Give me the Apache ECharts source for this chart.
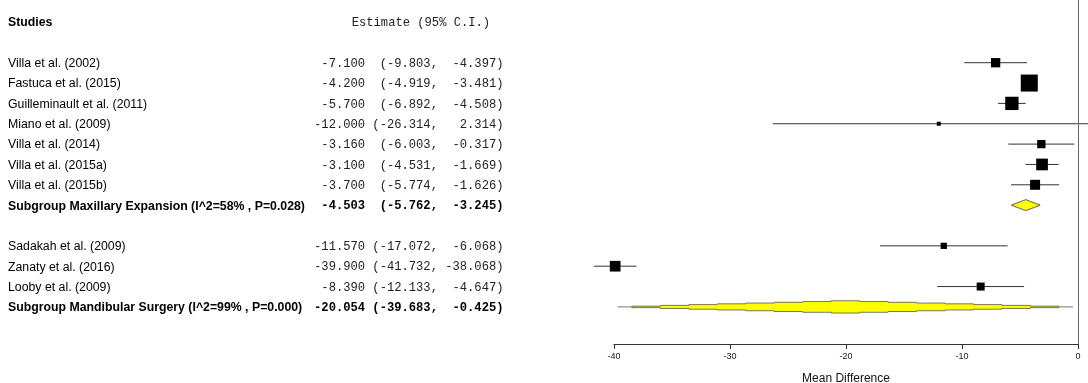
<!DOCTYPE html>
<html><head><meta charset="utf-8">
<script src="https://cdn.jsdelivr.net/npm/echarts@6/dist/echarts.min.js"></script>
<style>html,body{margin:0;padding:0;background:#fff}#c{width:1088px;height:383px}</style>
</head><body><div id="c"></div>
<script>
// ---- data ----
const names = [
  'Villa et al. (2002)', 'Fastuca et al. (2015)', 'Guilleminault et al. (2011)', 'Miano et al. (2009)',
  'Villa et al. (2014)', 'Villa et al. (2015a)', 'Villa et al. (2015b)',
  'Subgroup Maxillary Expansion (I^2=58% , P=0.028)',
  'Sadakah et al. (2009)', 'Zanaty et al. (2016)', 'Looby et al. (2009)',
  'Subgroup Mandibular Surgery (I^2=99% , P=0.000)'
];
const rows = [0, 1, 2, 3, 4, 5, 6, 7, 9, 10, 11, 12];
const est = [-7.100, -4.200, -5.700, -12.000, -3.160, -3.100, -3.700, -4.503, -11.570, -39.900, -8.390, -20.054];
const lo  = [-9.803, -4.919, -6.892, -26.314, -6.003, -4.531, -5.774, -5.762, -17.072, -41.732, -12.133, -39.683];
const hi  = [-4.397, -3.481, -4.508, 2.314, -0.317, -1.669, -1.626, -3.245, -6.068, -38.068, -4.647, -0.425];
const isSubgroup = [false, false, false, false, false, false, false, true, false, false, false, true];
const weights = [9.3, 17, 13.3, 4, 8.3, 11.7, 10, null, 6.3, 10.7, 8, null];
const xTicks = [-40, -30, -20, -10, 0];
const headerStudies = 'Studies';
const headerEstimate = 'Estimate (95% C.I.)';
const xName = 'Mean Difference';

// ---- helpers ----
function padL(s, n) { while (s.length < n) s = ' ' + s; return s; }
function fmtLine(i) {
  return padL(est[i].toFixed(3), 7) + ' ' + padL('(' + lo[i].toFixed(3), 8) + ', ' + padL(hi[i].toFixed(3), 7) + ')';
}
const SANS = '"Liberation Sans", Arial, sans-serif';
const MONO = '"Liberation Mono", "Courier New", monospace';

const studyIdx = [], subIdx = [];
isSubgroup.forEach((s, i) => (s ? subIdx : studyIdx).push(i));

const chart = echarts.init(document.getElementById('c'), null, { renderer: 'canvas' });

const option = {
  animation: false,
  backgroundColor: '#fff',
  grid: { left: 614, right: 10, top: 0, height: 344, containLabel: false, outerBoundsMode: 'none' },
  xAxis: {
    type: 'value', min: xTicks[0], max: xTicks[xTicks.length - 1], interval: 10,
    splitLine: { show: false },
    axisLine: { show: true, onZero: false, lineStyle: { color: '#333', width: 1 } },
    axisTick: { show: true, length: 5, lineStyle: { color: '#333' } },
    axisLabel: { fontFamily: SANS, fontSize: 9, color: '#222', margin: 8 },
    name: xName, nameLocation: 'middle', nameGap: 29,
    nameTextStyle: { fontFamily: SANS, fontSize: 12, color: '#111' }
  },
  yAxis: {
    type: 'value', inverse: true, min: -3.081, max: 13.823, show: false
  },
  series: [
    {
      // text columns
      type: 'custom',
      silent: true,
      data: rows.map((r) => [0, r]).concat([[0, -2]]),
      renderItem: function (params, api) {
        const i = params.dataIndex;
        const y = api.coord([0, api.value(1)])[1] + 1;
        if (i >= names.length) {
          return { type: 'group', children: [
            { type: 'text', style: { x: 8, y: y, text: headerStudies, font: 'bold 12.3px ' + SANS, fill: '#000', verticalAlign: 'middle', textAlign: 'left' } },
            { type: 'text', style: { x: 351.7, y: y, text: headerEstimate, font: '12.15px ' + MONO, fill: '#222', verticalAlign: 'middle', textAlign: 'left' } }
          ] };
        }
        const b = isSubgroup[i] ? 'bold ' : '';
        return { type: 'group', children: [
          { type: 'text', style: { x: 8, y: y, text: names[i], font: b + '12.3px ' + SANS, fill: '#000', verticalAlign: 'middle', textAlign: 'left' } },
          { type: 'text', style: { x: 503.5, y: y, text: fmtLine(i), font: b + '12.15px ' + MONO, fill: isSubgroup[i] ? '#000' : '#222', verticalAlign: 'middle', textAlign: 'right' } }
        ] };
      }
    },
    {
      // study CIs + boxes
      type: 'custom',
      clip: false,
      silent: true,
      data: studyIdx.map((i) => [est[i], rows[i], lo[i], hi[i], weights[i]]),
      renderItem: function (params, api) {
        const r = api.value(1);
        const c = api.coord([api.value(0), r]);
        const a = api.coord([api.value(2), r]);
        const bpt = api.coord([api.value(3), r]);
        const side = api.value(4);
        return { type: 'group', children: [
          { type: 'line', shape: { x1: a[0], y1: a[1], x2: bpt[0], y2: bpt[1] }, style: { stroke: '#333', lineWidth: 1 } },
          { type: 'rect', shape: { x: c[0] - side / 2, y: c[1] - side / 2, width: side, height: side }, style: { fill: '#000' } }
        ] };
      },
      markLine: {
        silent: true, symbol: ['none', 'none'], label: { show: false },
        lineStyle: { color: '#666', type: 'solid', width: 1 },
        data: [{ xAxis: 0 }]
      }
    },
    {
      // subgroup stepped diamonds
      type: 'custom',
      clip: false,
      silent: true,
      data: subIdx.map((i) => [est[i], rows[i], lo[i], hi[i]]),
      renderItem: function (params, api) {
        const r = api.value(1);
        const c = api.coord([api.value(0), r]);
        const a = api.coord([api.value(2), r]);
        const bpt = api.coord([api.value(3), r]);
        const y = c[1];
        const H = params.dataIndex === 0 ? 11 : 12.3;
        const s = (bpt[0] - a[0]) / 16;
        const cx = c[0];
        const top = [], bot = [];
        for (let k = -7; k <= 7; k++) {
          const h = H / 2 * (1 - Math.abs(k) / 8);
          const x0 = cx + (k - 0.5) * s, x1 = cx + (k + 0.5) * s;
          top.push([x0, y - h], [x1, y - h]);
          bot.push([x0, y + h], [x1, y + h]);
        }
        const pts = top.concat(bot.reverse());
        return { type: 'group', children: [
          { type: 'line', shape: { x1: a[0], y1: y, x2: bpt[0], y2: y }, style: { stroke: '#777', lineWidth: 1 } },
          { type: 'polygon', shape: { points: pts }, style: { fill: '#ffff00', stroke: '#555', lineWidth: 0.8 } }
        ] };
      }
    }
  ]
};
chart.setOption(option);
</script>
</body></html>
